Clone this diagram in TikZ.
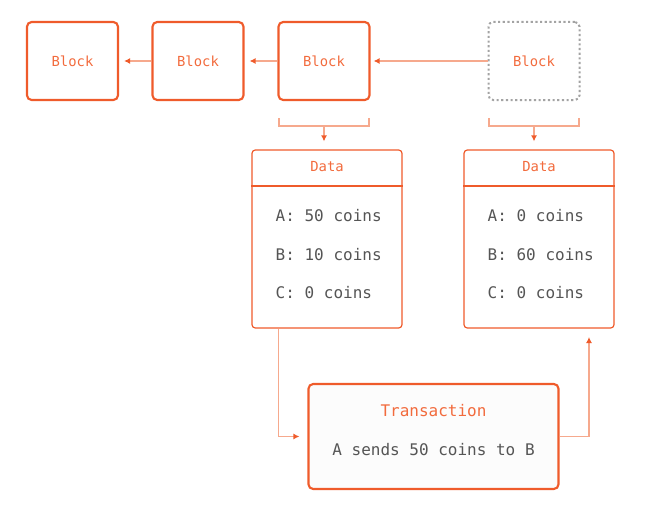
\documentclass[tikz,border=0pt]{standalone}
\usepackage{fontspec}
\setmonofont{DejaVu Sans Mono}
\usetikzlibrary{arrows.meta}
\definecolor{org}{HTML}{EF5B2B}
\definecolor{orgtxt}{HTML}{F26B3D}
\definecolor{orglight}{HTML}{F6A98D}
\definecolor{graytxt}{HTML}{555555}
\definecolor{dotgray}{HTML}{A3A3A3}
\definecolor{txfill}{HTML}{FCFCFC}
\tikzset{
  blockbox/.style={draw=org, line width=1.6pt, rounded corners=3.5pt, minimum width=68.25pt, minimum height=58.5pt, inner sep=0pt, font=\ttfamily\fontsize{10.4}{12}\selectfont, text=orgtxt},
  ghostbox/.style={blockbox, draw=dotgray, line width=1.5pt, dash pattern=on 1.6pt off 1.9pt},
  databox/.style={draw=org, line width=0.9pt, rounded corners=2.5pt, minimum width=112.5pt, minimum height=133.5pt, inner sep=0pt},
  txbox/.style={draw=org, fill=txfill, line width=1.6pt, rounded corners=3.5pt, minimum width=187.5pt, minimum height=78.75pt, inner sep=0pt},
  headtxt/.style={font=\ttfamily\fontsize{10.4}{12}\selectfont, text=orgtxt},
  titletxt/.style={font=\ttfamily\fontsize{12}{14}\selectfont, text=orgtxt},
  rowtxt/.style={font=\ttfamily\fontsize{12}{14}\selectfont, text=graytxt, anchor=west},
  conn/.style={draw=orglight, line width=0.9pt, -{Latex[length=4.5pt, width=4.5pt, color=org]}},
  bracket/.style={draw=orglight, line width=0.9pt},
}
\begin{document}
\begin{tikzpicture}[x=0.75pt, y=-0.75pt]
\useasboundingbox (0,0) rectangle (645,510);
% blocks
\node[blockbox] (b1) at (72.5,61) {Block};
\node[blockbox] (b2) at (198,61) {Block};
\node[blockbox] (b3) at (324,61) {Block};
\node[ghostbox, text=orgtxt] (b4) at (534,61) {Block};
\draw[conn] (b2.west) -- ([xshift=3.75pt]b1.east);
\draw[conn] (b3.west) -- ([xshift=3.75pt]b2.east);
\draw[conn] (b4.west) -- ([xshift=2.25pt]b3.east);
% brackets
\coordinate (k3l) at (279,118);
\coordinate (k3r) at (369,118);
\coordinate (k3m) at (324,126);
\draw[bracket] (k3l) -- (279,126) -- (369,126) -- (k3r);
\coordinate (k4l) at (489,118);
\coordinate (k4r) at (579,118);
\coordinate (k4m) at (534,126);
\draw[bracket] (k4l) -- (489,126) -- (579,126) -- (k4r);
% data boxes
\node[databox] (d1) at (327,239) {};
\node[databox] (d2) at (539,239) {};
\draw[conn] (k3m) -- ([yshift=6pt]d1.north -| k3m);
\draw[conn] (k4m) -- ([yshift=6pt]d2.north -| k4m);
\draw[draw=org, line width=0.8pt] (d1.west |- 0,186) coordinate (h1l) -- (d1.east |- 0,186) coordinate (h1r);
\draw[draw=org, line width=0.8pt] (d2.west |- 0,186) coordinate (h2l) -- (d2.east |- 0,186) coordinate (h2r);
\node[headtxt] (d1h) at (327,167) {Data};
\node[headtxt] (d2h) at (539,167) {Data};
\node[rowtxt] (d1a) at (271,216) {A: 50 coins};
\node[rowtxt] (d1b) at (271,255) {B: 10 coins};
\node[rowtxt] (d1c) at (271,293) {C: 0 coins};
\node[rowtxt] (d2a) at (483,216) {A: 0 coins};
\node[rowtxt] (d2b) at (483,255) {B: 60 coins};
\node[rowtxt] (d2c) at (483,293) {C: 0 coins};
% transaction
\node[txbox] (tx) at (433.5,436.5) {};
\node[titletxt] (txt) at (433.5,411) {Transaction};
\node[font=\ttfamily\fontsize{12}{14}\selectfont, text=graytxt] (txb) at (433.5,450) {A sends 50 coins to B};
\coordinate (d1out) at ([xshift=20.25pt]d1.south west);
\coordinate (d2in) at (589,337);
\draw[conn] (d1out) |- ([xshift=-6pt]tx.west);
\draw[conn] (tx.east) -| (d2in);
\end{tikzpicture}
\end{document}
